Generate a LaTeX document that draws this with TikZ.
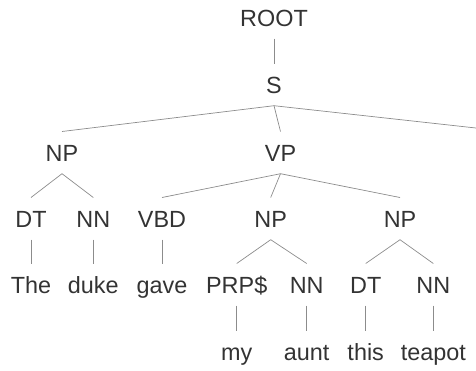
\documentclass[tikz,border=0pt]{standalone}
\usepackage{fontspec}
\setmainfont{Liberation Sans}
\begin{document}
\begin{tikzpicture}[x=1pt,y=1pt,
  lbl/.style={font=\fontsize{23.4}{26}\selectfont, text=black!80, text height=16.8pt, text depth=0pt, inner xsep=2pt, inner ysep=12.5pt, anchor=base},
  edge/.style={draw=black!45, line width=0.7pt}]
\useasboundingbox (0,0) rectangle (476,-370);
\clip (0,0) rectangle (476,-370);
% level baselines
\node[lbl] (root) at (274,-26) {ROOT};
\node[lbl] (s) at (274,-93) {S};
\node[lbl] (np1) at (62,-161) {NP};
\node[lbl] (vp) at (280.5,-161) {VP};
\coordinate (punct) at (494,-130);
\node[lbl] (dt1) at (31,-227) {DT};
\node[lbl] (nn1) at (93.3,-227) {NN};
\node[lbl] (vbd) at (162,-227) {VBD};
\node[lbl] (np2) at (270.7,-227) {NP};
\node[lbl] (np3) at (400,-227) {NP};
\node[lbl] (the) at (31,-293) {The};
\node[lbl] (duke) at (93.3,-293) {duke};
\node[lbl] (gave) at (162,-293) {gave};
\node[lbl] (prp) at (236.7,-293) {PRP\$};
\node[lbl] (nn2) at (306.7,-293) {NN};
\node[lbl] (dt2) at (365.7,-293) {DT};
\node[lbl] (nn3) at (433.3,-293) {NN};
\node[lbl] (my) at (236.7,-360) {my};
\node[lbl] (aunt) at (306.7,-360) {aunt};
\node[lbl] (this) at (365.7,-360) {this};
\node[lbl] (teapot) at (433.3,-360) {teapot};
% edges
\draw[edge] (root.south) -- (s.north);
\draw[edge] (s.south) -- (np1.north);
\draw[edge] (s.south) -- (vp.north);
\draw[edge] (s.south) -- (punct);
\draw[edge] (np1.south) -- (dt1.north);
\draw[edge] (np1.south) -- (nn1.north);
\draw[edge] (vp.south) -- (vbd.north);
\draw[edge] (vp.south) -- (np2.north);
\draw[edge] (vp.south) -- (np3.north);
\draw[edge] (dt1.south) -- (the.north);
\draw[edge] (nn1.south) -- (duke.north);
\draw[edge] (vbd.south) -- (gave.north);
\draw[edge] (np2.south) -- (prp.north);
\draw[edge] (np2.south) -- (nn2.north);
\draw[edge] (np3.south) -- (dt2.north);
\draw[edge] (np3.south) -- (nn3.north);
\draw[edge] (prp.south) -- (my.north);
\draw[edge] (nn2.south) -- (aunt.north);
\draw[edge] (dt2.south) -- (this.north);
\draw[edge] (nn3.south) -- (teapot.north);
\end{tikzpicture}
\end{document}
